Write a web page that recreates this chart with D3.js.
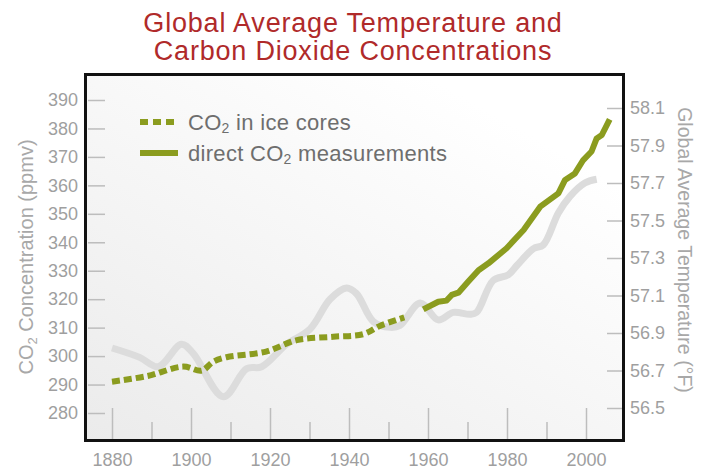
<!DOCTYPE html>
<html>
<head>
<meta charset="utf-8">
<script src="https://cdn.jsdelivr.net/npm/d3@7"></script>
<style>
  body { margin: 0; background: #fff; }
  svg { display: block; }
  text { font-family: "Liberation Sans", Arial, sans-serif; }
  .tick text { font-family: "Liberation Sans Narrow", "Liberation Sans", sans-serif; fill: #9f9f9f; font-size: 18px; }
  .tick line { stroke: #bdbdbd; stroke-width: 1.5; }
</style>
</head>
<body>
<svg width="712" height="466"></svg>
<script>
// co2 from ice cores (ppmv)
var iceYears = [1880, 1889, 1898, 1902.7, 1905.6, 1909, 1919, 1926.8, 1936, 1943.6, 1947.8, 1954];
var iceValues = [291, 293, 296.3, 294.9, 298, 299.6, 301.6, 305.6, 306.8, 307.7, 310.6, 313.6];

// direct co2 measurements (ppmv)
var directYears = [1958.8, 1962.6, 1964.7, 1966, 1967.7, 1970.2, 1972.8, 1975.3, 1979.9, 1984.2, 1988.4, 1993, 1994.7, 1997.2, 1999.3, 2001.4, 2002.7, 2004, 2006];
var directValues = [316.4, 319.1, 319.5, 321.5, 322.3, 326.2, 330.2, 332.6, 337.9, 344.3, 352.5, 357.2, 361.9, 364.2, 368.9, 371.9, 376.5, 377.7, 383.2];

// global average temperature (F)
var tempYears = [1880, 1887, 1891.7, 1897.6, 1900.6, 1908.2, 1914.1, 1917.9, 1924.2, 1930.1, 1935.2, 1939.4, 1941.9, 1946.2, 1950.4, 1952.9, 1958, 1962.6, 1966.4, 1970.6, 1972.3, 1976.5, 1980.3, 1982.5, 1986.7, 1989.2, 1993, 1996, 1999.7, 2002.7];
var tempValues = [56.82, 56.77, 56.72, 56.84, 56.79, 56.56, 56.71, 56.72, 56.84, 56.92, 57.08, 57.14, 57.11, 56.96, 56.93, 56.94, 57.06, 56.97, 57.01, 57.0, 57.01, 57.18, 57.21, 57.26, 57.35, 57.37, 57.54, 57.63, 57.70, 57.72];

var yearTicks = [1880, 1900, 1920, 1940, 1960, 1980, 2000];
var yearMinorTicks = [1890, 1910, 1930, 1950, 1970, 1990];
var co2Ticks = [280, 290, 300, 310, 320, 330, 340, 350, 360, 370, 380, 390];
var tempTicks = [56.5, 56.7, 56.9, 57.1, 57.3, 57.5, 57.7, 57.9, 58.1];

var green = '#8b9c1f';

var svg = d3.select('svg');

var x = d3.scaleLinear().domain([1880, 2000]).range([112, 586]);
var yCo2 = d3.scaleLinear().domain([280, 390]).range([413, 100]);
var yTemp = d3.scaleLinear().domain([56.5, 58.1]).range([408, 108]);

// title
svg.append('text').attr('x', 353).attr('y', 32).attr('text-anchor', 'middle')
  .style('font-size', '27px').style('letter-spacing', '0.8px').style('fill', '#b02a2a')
  .text('Global Average Temperature and');
svg.append('text').attr('x', 353).attr('y', 60).attr('text-anchor', 'middle')
  .style('font-size', '27px').style('letter-spacing', '0.8px').style('fill', '#b02a2a')
  .text('Carbon Dioxide Concentrations');

// plot background
var grad = svg.append('defs').append('linearGradient').attr('id', 'bg')
  .attr('x1', 0).attr('y1', 1).attr('x2', 0.75).attr('y2', 0.1);
grad.append('stop').attr('offset', 0).attr('stop-color', '#ebebeb');
grad.append('stop').attr('offset', 1).attr('stop-color', '#ffffff');

svg.append('rect').attr('x', 85.5).attr('y', 74.5).attr('width', 538).attr('height', 366)
  .attr('fill', 'url(#bg)');

// axes
function cleanAxis(g) {
  g.select('.domain').remove();
}

svg.append('g').attr('transform', 'translate(105,0)')
  .call(d3.axisLeft(yCo2).tickValues(co2Ticks).tickSize(17).tickPadding(10))
  .call(cleanAxis);

svg.append('g').attr('transform', 'translate(607,0)')
  .call(d3.axisRight(yTemp).tickValues(tempTicks).tickSize(15).tickPadding(8).tickFormat(d3.format('.1f')))
  .call(cleanAxis);

svg.append('g').attr('transform', 'translate(0,408)')
  .call(d3.axisBottom(x).tickValues(yearTicks).tickSize(33).tickPadding(12).tickFormat(d3.format('d')))
  .call(cleanAxis);

svg.append('g').attr('transform', 'translate(0,422)')
  .call(d3.axisBottom(x).tickValues(yearMinorTicks).tickSize(19).tickFormat(''))
  .call(cleanAxis);

// lines
var tempLine = d3.line().x(function(d, i) { return x(tempYears[i]); })
  .y(function(d) { return yTemp(d); }).curve(d3.curveCatmullRom);
var iceLine = d3.line().x(function(d, i) { return x(iceYears[i]); })
  .y(function(d) { return yCo2(d); }).curve(d3.curveCatmullRom);
var directLine = d3.line().x(function(d, i) { return x(directYears[i]); })
  .y(function(d) { return yCo2(d); });

svg.append('path').attr('d', tempLine(tempValues)).attr('fill', 'none')
  .attr('stroke', '#dcdcdc').attr('stroke-width', 7).attr('stroke-linejoin', 'round');
svg.append('path').attr('d', iceLine(iceValues)).attr('fill', 'none')
  .attr('stroke', green).attr('stroke-width', 6).attr('stroke-dasharray', '8,4');
svg.append('path').attr('d', directLine(directValues)).attr('fill', 'none')
  .attr('stroke', green).attr('stroke-width', 6).attr('stroke-linejoin', 'round');

// frame
svg.append('rect').attr('x', 85.5).attr('y', 74.5).attr('width', 538).attr('height', 366)
  .attr('fill', 'none').attr('stroke', '#111').attr('stroke-width', 3);

// axis titles
var leftTitle = svg.append('text').attr('transform', 'translate(33,257) rotate(-90)')
  .attr('text-anchor', 'middle').style('font-size', '20px').style('fill', '#a8a8a8');
leftTitle.append('tspan').text('CO');
leftTitle.append('tspan').attr('dy', 4).style('font-size', '13px').text('2');
leftTitle.append('tspan').attr('dy', -4).text(' Concentration (ppmv)');

svg.append('text').attr('transform', 'translate(678,250) rotate(90)')
  .attr('text-anchor', 'middle').style('font-size', '19.5px').style('fill', '#a8a8a8')
  .text('Global Average Temperature (\u00b0F)');

// legend
svg.append('line').attr('x1', 140).attr('x2', 177).attr('y1', 122).attr('y2', 122)
  .attr('stroke', green).attr('stroke-width', 6).attr('stroke-dasharray', '8,5');
svg.append('line').attr('x1', 140).attr('x2', 178).attr('y1', 153).attr('y2', 153)
  .attr('stroke', green).attr('stroke-width', 6);

var leg1 = svg.append('text').attr('x', 188).attr('y', 130).style('font-size', '22px')
  .style('letter-spacing', '0.3px').style('fill', '#6e6e6e');
leg1.append('tspan').text('CO');
leg1.append('tspan').attr('dy', 3).style('font-size', '14px').text('2');
leg1.append('tspan').attr('dy', -3).text(' in ice cores');

var leg2 = svg.append('text').attr('x', 188).attr('y', 161).style('font-size', '22px')
  .style('letter-spacing', '0.3px').style('fill', '#6e6e6e');
leg2.append('tspan').text('direct CO');
leg2.append('tspan').attr('dy', 3).style('font-size', '14px').text('2');
leg2.append('tspan').attr('dy', -3).text(' measurements');
</script>
</body>
</html>
